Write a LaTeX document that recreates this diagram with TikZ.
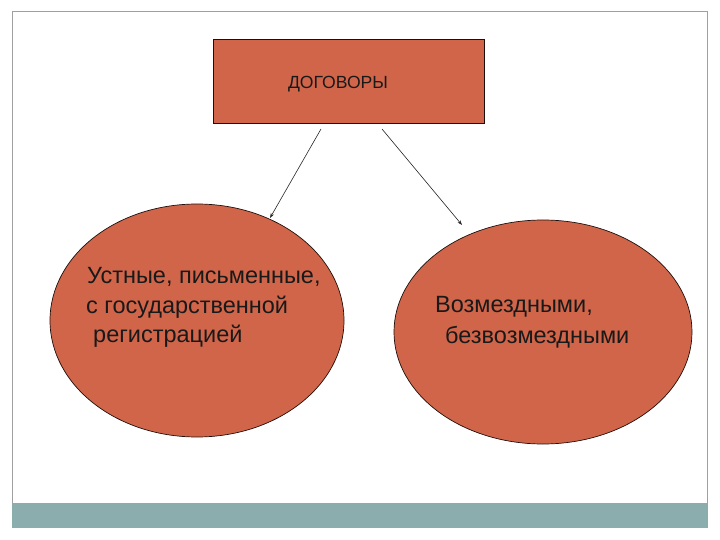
\documentclass[tikz,border=0pt]{standalone}
\usepackage{fontspec}
\setmainfont{Liberation Sans}
\usetikzlibrary{shapes.geometric,arrows.meta}
\definecolor{brick}{HTML}{D0654A}
\definecolor{barteal}{HTML}{8BADAD}
\definecolor{framegray}{HTML}{A0A0A0}
\tikzset{
  shapefill/.style={fill=brick, draw=black!85!brick, line width=0.7pt},
  conn/.style={draw=black!85, line width=0.6pt, -{Stealth[length=5pt,width=3.5pt]}},
  lbl/.style={anchor=base west, inner sep=0pt, font=\fontsize{23.5}{29}\selectfont, text=black!90}
}
\begin{document}
\begin{tikzpicture}[x=1pt,y=-1pt]
\useasboundingbox (0,0) rectangle (720,540);
% frame
\draw[framegray, line width=1pt] (12,528) -- (12,12) -- (707.5,12) -- (707.5,528);
\fill[barteal] (12,503) rectangle (707.5,528);
% top box
\node[shapefill, rectangle, minimum width=271pt, minimum height=84pt, inner sep=0pt] (top) at (348.5,81) {};
\node[anchor=base, inner sep=0pt, font=\fontsize{17.6}{20}\selectfont, text=black!90] (toplbl) at (338,89) {ДОГОВОРЫ};
% ellipses
\node[shapefill, ellipse, minimum width=294pt, minimum height=233pt, inner sep=0pt] (left) at (197,320.5) {};
\node[shapefill, ellipse, minimum width=298pt, minimum height=224pt, inner sep=0pt] (right) at (543,332) {};
% texts
\node[lbl] (l1) at (87,283) {Устные, письменные,};
\node[lbl] (l2) at (86,313) {с государственной};
\node[lbl] (l3) at (93,342) {регистрацией};
\node[lbl] (r1) at (435,312) {Возмездными,};
\node[lbl] (r2) at (445,343) {безвозмездными};
% connectors
\coordinate (s1) at (321,129);
\coordinate (e1) at (270,218);
\coordinate (s2) at (382,129);
\coordinate (e2) at (462,225);
\draw[conn] (s1) -- (e1);
\draw[conn] (s2) -- (e2);
\end{tikzpicture}
\end{document}
